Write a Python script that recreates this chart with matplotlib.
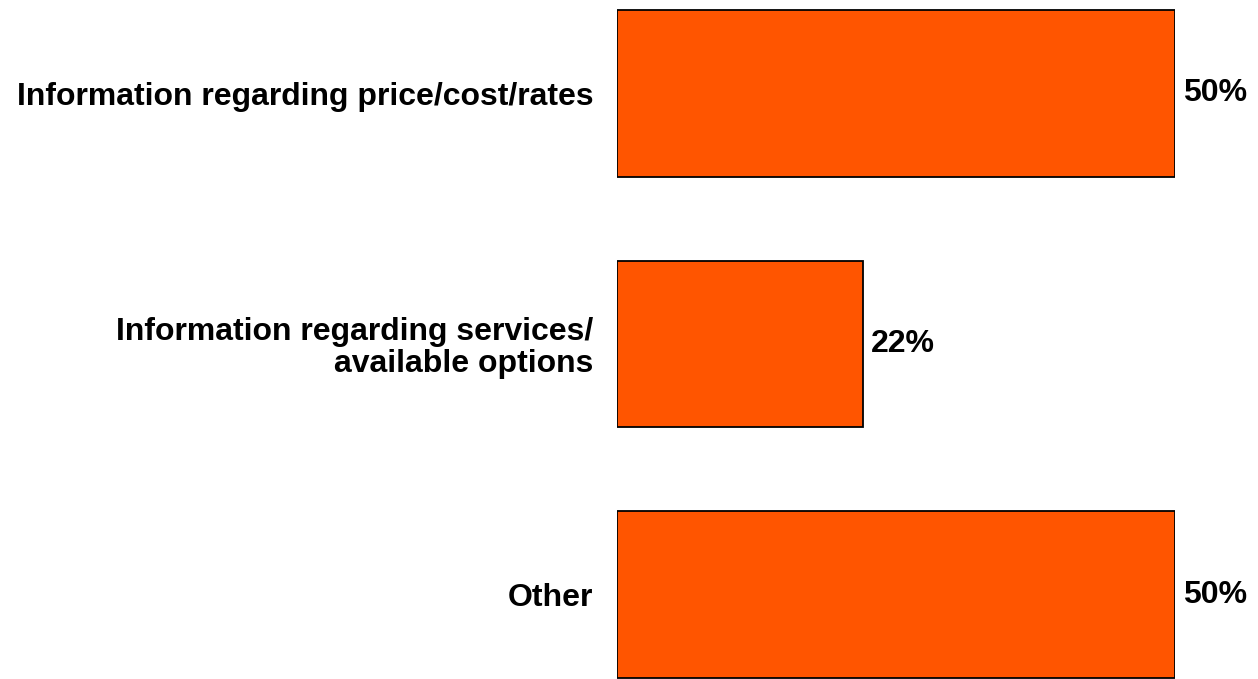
import matplotlib
matplotlib.use("Agg")
import matplotlib.pyplot as plt

categories = [
    "Information regarding price/cost/rates",
    "Information regarding services/\navailable options",
    "Other",
]
values = [50, 22, 50]
value_labels = ["50%", "22%", "50%"]

bar_color = "#FF5500"
W, H, DPI = 1258, 679, 100

plt.rcParams["font.family"] = ["Liberation Sans", "DejaVu Sans"]

fig = plt.figure(figsize=(W / DPI, H / DPI), dpi=DPI)
ax = fig.add_axes([617 / W, 0.0, (1175 - 617) / W, 1.0])

pos = list(range(len(categories)))
ax.barh(pos, values, height=0.665, color=bar_color, edgecolor="black", linewidth=1.3)

ax.set_xlim(0, 50)
ax.set_ylim((H + 1 - 93.5) / 251, -93.5 / 251)

ax.set_yticks(pos)
ax.set_yticklabels(categories, fontsize=23, fontweight="bold", ha="right",
                   multialignment="right", linespacing=1.05)
ax.tick_params(axis="y", length=0, pad=17)
ax.set_xticks([])
for s in ax.spines.values():
    s.set_visible(False)

for p, v, lab in zip(pos, values, value_labels):
    ax.annotate(lab, xy=(v, p), xytext=(6, 0), textcoords="offset points",
                ha="left", va="center", fontsize=23, fontweight="bold",
                annotation_clip=False)

fig.savefig("out.png", dpi=DPI)
